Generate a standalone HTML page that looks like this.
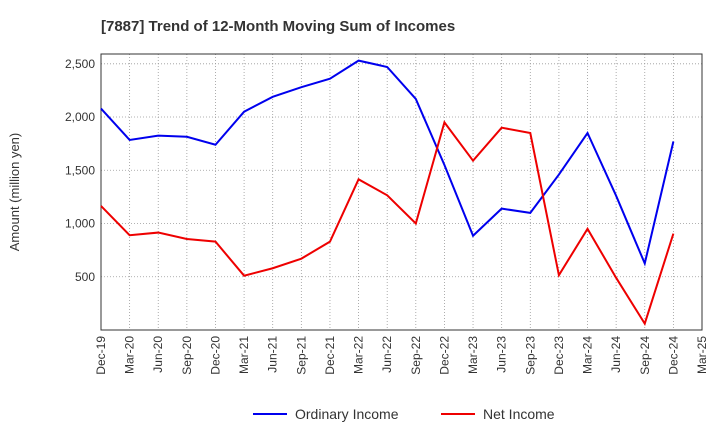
<!DOCTYPE html>
<html><head><meta charset="utf-8"><style>
body{margin:0;background:#fff;font-family:"Liberation Sans",sans-serif;}
svg text{font-family:"Liberation Sans",sans-serif;}
</style></head><body>
<svg id="chart" width="720" height="440" xmlns="http://www.w3.org/2000/svg">
<text x="101" y="31" font-size="15" font-weight="bold" fill="#333">[7887]  Trend of 12-Month Moving Sum of Incomes</text>
<text transform="translate(19,192) rotate(-90)" text-anchor="middle" font-size="13" fill="#333">Amount (million yen)</text>
<g id="grid"></g><g id="axes"></g><g id="series"></g>
<g>
<line x1="253" y1="414" x2="287" y2="414" stroke="#0000ee" stroke-width="2"/>
<text x="295" y="419" font-size="14" fill="#333">Ordinary Income</text>
<line x1="441" y1="414" x2="475" y2="414" stroke="#ee0000" stroke-width="2"/>
<text x="483" y="419" font-size="14" fill="#333">Net Income</text>
</g>
</svg>
<script>
const categories=["Dec-19","Mar-20","Jun-20","Sep-20","Dec-20","Mar-21","Jun-21","Sep-21","Dec-21","Mar-22","Jun-22","Sep-22","Dec-22","Mar-23","Jun-23","Sep-23","Dec-23","Mar-24","Jun-24","Sep-24","Dec-24","Mar-25"];
const ordinaryIncome=[2080,1785,1825,1815,1740,2050,2190,2280,2360,2530,2470,2170,1550,885,1140,1100,1460,1850,1260,625,1770];
const netIncome=[1165,890,915,855,830,510,580,670,830,1415,1265,1000,1950,1590,1900,1850,515,950,490,60,905];
const yTicks=[500,1000,1500,2000,2500];
const yTickLabels=["500","1,000","1,500","2,000","2,500"];
const L=101,R=702,T=54,B=330,YMAX=2592;
const NS="http://www.w3.org/2000/svg";
const x=i=>L+(R-L)*i/(categories.length-1);
const y=v=>B-(B-T)*v/YMAX;
function mk(tag,attrs,parent){const e=document.createElementNS(NS,tag);for(const k in attrs)e.setAttribute(k,attrs[k]);document.getElementById(parent).appendChild(e);return e;}
categories.forEach((c,i)=>{
 const g=mk("line",{x1:x(i),x2:x(i),y1:T,y2:B,stroke:"#999","stroke-dasharray":"1,2","stroke-width":0.8},"grid");
 
 
 const t=mk("text",{transform:`translate(${x(i)+4},${B+6}) rotate(-90)`,"text-anchor":"end","font-size":12,fill:"#333"},"axes");
 t.textContent=c;
 
 
});
yTicks.forEach((v,i)=>{
 const g=mk("line",{x1:L,x2:R,y1:y(v),y2:y(v),stroke:"#999","stroke-dasharray":"1,2","stroke-width":0.8},"grid");
 
 
 const t=mk("text",{x:L-6,y:y(v)+4,"text-anchor":"end","font-size":12,fill:"#333"},"axes");
 t.textContent=yTickLabels[i];
 
 
});
const fr=mk("rect",{x:L,y:T,width:R-L,height:B-T,fill:"none",stroke:"#333","stroke-width":1},"axes");


function line(data,color,name){
 const p=mk("polyline",{points:data.map((v,i)=>x(i)+","+y(v)).join(" "),fill:"none",stroke:color,"stroke-width":2},"series");
 
 
}
line(ordinaryIncome,"#0000ee","ordinary-income-line");
line(netIncome,"#ee0000","net-income-line");
</script>
</body></html>
